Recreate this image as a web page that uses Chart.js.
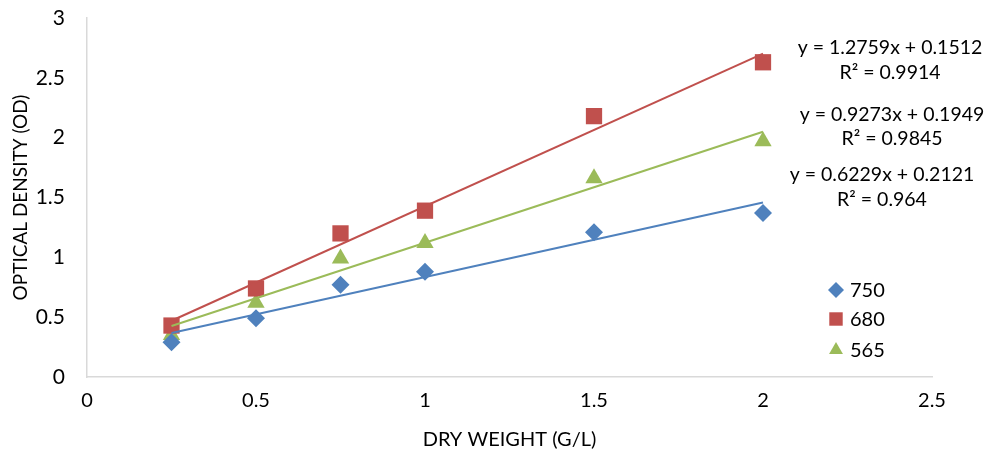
<!DOCTYPE html>
<html>
<head>
<meta charset="utf-8">
<script src="https://cdn.jsdelivr.net/npm/chart.js@4/dist/chart.umd.min.js"></script>
<style>
  html, body { margin: 0; padding: 0; background: #fff; }
  #wrap { width: 987px; height: 459px; position: relative; }
</style>
</head>
<body>
<div id="wrap"><canvas id="odChart"></canvas></div>
<script>
// dry weight (g/L)
const dryWeight = [0.25, 0.5, 0.75, 1, 1.5, 2];

// optical density per wavelength
const od750 = [0.29, 0.49, 0.77, 0.88, 1.21, 1.37];
const od680 = [0.43, 0.74, 1.20, 1.39, 2.18, 2.63];
const od565 = [0.35, 0.62, 0.99, 1.12, 1.66, 1.97];

// trendline coefficients (as printed on the chart)
const slopes = [0.6229, 1.2759, 0.9273];
const intercepts = [0.2121, 0.1512, 0.1949];
const rSquared = ["0.964", "0.9914", "0.9845"];
const eqTexts = ["y = 0.6229x + 0.2121", "y = 1.2759x + 0.1512", "y = 0.9273x + 0.1949"];

const seriesNames = ["750", "680", "565"];
const colors = ["#4F81BD", "#C0504D", "#9BBB59"];
const markers = ["rectRot", "rect", "triangle"];
const markerSize = [9, 11.5, 10];

const FONT = "Lato, 'Open Sans', sans-serif";

function pts(ys) {
  return dryWeight.map((x, i) => ({ x: x, y: ys[i] }));
}

function trend(i) {
  let x0 = dryWeight[0];
  let x1 = dryWeight[dryWeight.length - 1];
  return [
    { x: x0, y: slopes[i] * x0 + intercepts[i] },
    { x: x1, y: slopes[i] * x1 + intercepts[i] }
  ];
}

const allSeries = [od750, od680, od565];
let datasets = [];

// trendlines
for (let i = 0; i < 3; i++) {
  datasets.push({
    type: "line",
    label: "trend " + seriesNames[i],
    data: trend(i),
    borderColor: colors[i],
    borderWidth: 2,
    pointRadius: 0,
    fill: false,
    tension: 0
  });
}
// markers
for (let i = 0; i < 3; i++) {
  datasets.push({
    type: "scatter",
    label: seriesNames[i],
    data: pts(allSeries[i]),
    pointStyle: markers[i],
    pointRadius: markerSize[i],
    pointHoverRadius: markerSize[i],
    backgroundColor: colors[i],
    borderColor: colors[i],
    borderWidth: 0
  });
}

// legend + equation labels
const annotations = {
  id: "annotations",
  afterDraw(chart) {
    const ctx = chart.ctx;
    ctx.save();
    ctx.fillStyle = "#000";
    ctx.textBaseline = "middle";

    // equations: order 680, 565, 750 top to bottom
    const eqPos = [
      { i: 1, x: 890, y1: 48, y2: 73 },
      { i: 2, x: 892, y1: 115, y2: 139 },
      { i: 0, x: 882, y1: 175, y2: 200 }
    ];
    ctx.font = "19.5px " + FONT;
    ctx.textAlign = "center";
    for (let p of eqPos) {
      ctx.fillText(eqTexts[p.i], p.x, p.y1);
      ctx.fillText("R\u00B2 = " + rSquared[p.i], p.x, p.y2);
    }

    // legend
    const legY = [290, 319, 350];
    ctx.textAlign = "left";
    ctx.font = "20px " + FONT;
    for (let i = 0; i < 3; i++) {
      ctx.fillStyle = colors[i];
      ctx.strokeStyle = colors[i];
      Chart.helpers.drawPoint(ctx, {
        pointStyle: markers[i],
        radius: i === 1 ? 9.5 : 8,
        rotation: 0,
        borderWidth: 0
      }, 836, legY[i]);
      ctx.fillStyle = "#000";
      ctx.fillText(seriesNames[i], 850, legY[i] + 1);
    }
    ctx.restore();
  }
};

const tickFmt = (v) => String(v);

new Chart(document.getElementById("odChart"), {
  data: { datasets },
  plugins: [annotations],
  options: {
    responsive: true,
    maintainAspectRatio: false,
    animation: false,
    layout: { padding: { top: 18, right: 55, bottom: 0, left: 0 } },
    plugins: {
      legend: { display: false },
      tooltip: { enabled: false }
    },
    scales: {
      x: {
        type: "linear",
        min: 0,
        max: 2.5,
        ticks: { stepSize: 0.5, color: "#000", padding: 12, callback: tickFmt, font: { family: FONT, size: 20 } },
        grid: { display: false, drawTicks: false },
        border: { color: "#D9D9D9", width: 1.5 },
        title: {
          display: true,
          text: "DRY WEIGHT (G/L)",
          color: "#000",
          font: { family: FONT, size: 20 },
          padding: { top: 4, bottom: 7 }
        },
        afterFit(s) { s.height = 82; }
      },
      y: {
        type: "linear",
        min: 0,
        max: 3,
        ticks: { stepSize: 0.5, color: "#000", padding: 22, callback: tickFmt, font: { family: FONT, size: 21 } },
        grid: { display: false, drawTicks: false },
        border: { color: "#D9D9D9", width: 1.5 },
        title: {
          display: true,
          text: "OPTICAL DENSITY (OD)",
          color: "#000",
          font: { family: FONT, size: 19 },
          padding: { top: 9, bottom: 4 }
        },
        afterFit(s) {
          s.width = 87;
          s.paddingTop = 18;
        }
      }
    }
  }
});
</script>
</body>
</html>
